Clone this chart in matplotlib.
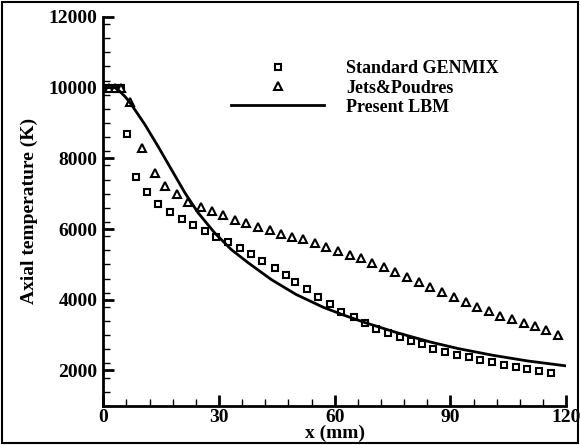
import matplotlib
matplotlib.use("Agg")
import matplotlib.pyplot as plt
from matplotlib.patches import Rectangle

plt.rcParams['font.family'] = ['Liberation Serif', 'DejaVu Serif']
plt.rcParams['font.weight'] = 'bold'

# Standard GENMIX (squares)
genmix_x = [0, 1.5, 3, 4.5, 6.2, 8.6, 11.4, 14.2, 17.4, 20.5, 23.3, 26.4, 29.3, 32.4,
            35.5, 38.3, 41.2, 44.6, 47.4, 49.7, 52.7, 55.7, 58.8, 61.7, 65.0, 67.9,
            70.7, 73.8, 76.9, 79.8, 82.6, 85.6, 88.6, 91.7, 94.8, 97.7, 100.8, 103.9,
            107.0, 109.8, 112.9, 116.1]
genmix_t = [10000, 10000, 10000, 10000, 8700, 7460, 7060, 6720, 6495, 6297, 6127, 5957,
            5788, 5647, 5477, 5307, 5109, 4911, 4713, 4516, 4318, 4092, 3894, 3668,
            3526, 3357, 3187, 3074, 2933, 2820, 2735, 2600, 2509, 2424, 2368, 2283,
            2226, 2141, 2085, 2028, 1972, 1915]

# Jets&Poudres (triangles)
jets_x = [0, 1.5, 3, 4.5, 7.0, 10.1, 13.3, 16.1, 19.2, 22.0, 25.4, 28.2, 31.1, 34.2,
          37.1, 40.2, 43.3, 46.1, 49.0, 51.8, 54.9, 57.8, 60.9, 64.0, 66.8, 69.7,
          72.8, 75.6, 78.8, 81.9, 84.7, 87.8, 90.9, 94.0, 96.9, 100.0, 102.8, 106.0,
          109.1, 111.9, 114.8, 117.9]
jets_t = [10000, 10000, 10000, 10000, 9580, 8300, 7590, 7230, 7003, 6776, 6635, 6522,
          6410, 6268, 6183, 6070, 5986, 5873, 5788, 5715, 5618, 5505, 5392, 5279,
          5194, 5053, 4940, 4798, 4657, 4516, 4374, 4233, 4092, 3950, 3809, 3696,
          3555, 3470, 3357, 3244, 3131, 3017]

# Present LBM (line)
lbm_x = [0, 3, 4.3, 5.8, 7.3, 10.8, 14.2, 17.7, 21.2, 24.6, 28.9, 33.2, 37.6, 43.6,
         50, 57, 62, 68, 76, 85, 92, 101, 110, 120]
lbm_t = [10000, 10000, 9895, 9730, 9520, 8955, 8340, 7680, 7020, 6460, 5890, 5420,
         5045, 4570, 4150, 3790, 3580, 3350, 3074, 2800, 2620, 2430, 2270, 2130]

fig = plt.figure(figsize=(5.8, 4.45), dpi=100)
ax = fig.add_axes([0.178, 0.088, 0.798, 0.874])

ax.plot(genmix_x, genmix_t, 's', mfc='white', mec='black', ms=5, mew=1.5,
        label='Standard GENMIX')
ax.plot(jets_x, jets_t, '^', mfc='white', mec='black', ms=5.5, mew=1.5,
        label='Jets&Poudres')
ax.plot(lbm_x, lbm_t, '-', color='black', lw=2, label='Present LBM')

ax.set_xlim(0, 120)
ax.set_ylim(1000, 12000)
ax.set_xticks([0, 30, 60, 90, 120])
ax.set_yticks([2000, 4000, 6000, 8000, 10000, 12000])
ax.set_xticks(range(0, 121, 6), minor=True)
ax.set_yticks(range(1000, 12001, 400), minor=True)
ax.tick_params(which='major', direction='in', length=8, width=2, labelsize=14, pad=4)
ax.tick_params(axis='x', which='major', pad=2)
ax.tick_params(which='minor', direction='in', length=5, width=1)
ax.spines['top'].set_visible(False)
ax.spines['right'].set_visible(False)
ax.spines['left'].set_linewidth(2)
ax.spines['bottom'].set_linewidth(2)

ax.set_xlabel('x (mm)', fontsize=14, fontweight='bold', labelpad=-1)
ax.set_ylabel('Axial temperature (K)', fontsize=14, fontweight='bold', labelpad=8)

ax.legend(loc='upper left', bbox_to_anchor=(0.24, 0.93), frameon=False,
          handlelength=5.2, labelspacing=0.12, handletextpad=1.2,
          prop={'weight': 'bold', 'size': 13})

fig.patches.append(Rectangle((0.004, 0.005), 0.992, 0.99, transform=fig.transFigure,
                             fill=False, edgecolor='black', lw=1.5))

fig.savefig('out.png', dpi=100)
